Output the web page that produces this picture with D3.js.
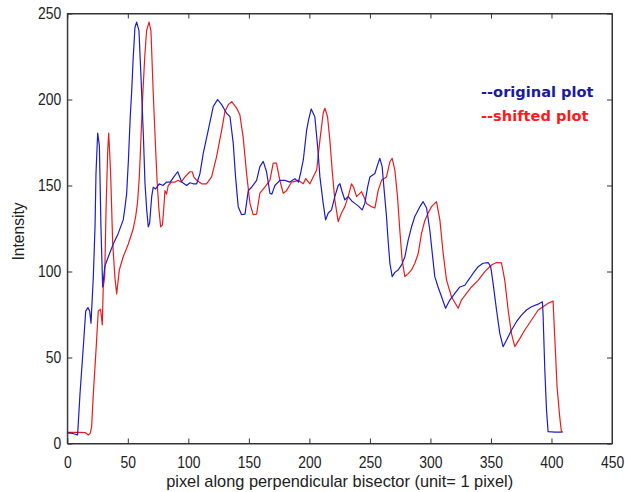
<!DOCTYPE html>
<html>
<head>
<meta charset="utf-8">
<script src="https://cdn.jsdelivr.net/npm/d3@7"></script>
<style>
html,body{margin:0;padding:0;background:#fff;}
svg{display:block;}
</style>
</head>
<body>
<svg id="chart" width="625" height="492"></svg>
<script>
// ---- data ----
const xTicks = [0, 50, 100, 150, 200, 250, 300, 350, 400, 450];
const yTicks = [0, 50, 100, 150, 200, 250];
const seriesNames = ["--original plot", "--shifted plot"];

const originalX = [0,3,6,8.5,10.5,13.2,15.2,17,18.5,19.6,21.5,22.9,23.7,25.1,26.5,27.8,29.2,31,33.9,38,42,46.2,47.6,49,50.5,52,53.2,54.5,55.9,57.3,59.2,60.9,62.8,64.2,65.6,66.9,68,69.7,71,73,76,79,82,85,88,91.2,94.5,98.6,101.3,104,106.9,109.6,112.3,116.4,120.6,124.2,127.5,131.6,134.4,137.1,139,141.2,144,146.8,149.5,152.3,156.4,159.1,161.9,164.6,167.4,169,171.5,175.6,179.8,183.9,188,191,193,195,197.7,199.3,201.5,204.5,206.8,208.7,211.4,213.4,215.6,218.3,221,223.8,225.2,227,229.3,232,235,237.6,240.5,243.6,245.8,248.1,250,254.1,256.8,258.2,260.1,261.8,263.7,265,266.5,268.4,270.6,273.3,276.1,278.9,281.6,284.4,287.1,291.3,294,296.8,299.5,301,303.6,306.3,309.2,312.5,316,320.2,324.3,328.4,331.2,335.3,339.4,343.5,347.7,349.8,351.8,354.6,357.3,360,362.8,367,371.1,375.2,379.4,383.5,388.9,392.5,393,394.5,395.9,397.2,403,408.5];
const originalY = [6,6,5.5,5,29,56,77,79,77,70,97,126,157,180.5,173,126,91,103,108.6,116,122,130,137,145,165,190,205,225,242,245,240,213,180,151,136,126,128,143.5,149,148,151,150,152,152,155,158,152,150,151.6,151,151,157,168.7,182,196,200,197,192,190,174.5,155,137.7,133,133.4,147,149,153,161,164,158,145.5,145,150,153,153,152,154,152,158,165,182,188,194.5,190,172.6,155,139.6,130,134,135.8,143.5,150,151,146.5,141.6,143.5,141,139.6,138,135.8,139.6,149,155,157,163,165.8,161,147,132,118.3,104.8,97,99.5,100.9,103.7,108.6,118.3,126,132,137.7,140.6,136.9,124,114,97,91,85.3,78.6,83.4,87.3,91,92,94.8,99,102.8,104.8,105.2,102.8,93,77.6,64,56.3,60,66,70.8,74.6,77.6,79.5,81,82.4,76,42.7,19.5,6.9,6.6,6.6];

const shiftedX = [0,5,10,15,17.5,19,20.1,21.5,23.7,25.6,27.5,28.9,29.7,30.9,32,33.4,34.2,35.8,37.5,39.4,40.8,43,46.2,50.4,54.5,56.5,58,59.5,61,62.5,64,65.5,67.5,69.1,71,73,74.3,75.7,77.1,78.5,79.3,80.7,82,83.4,86.1,89,91.6,94,97.2,101.3,103.2,104.5,106.9,111,115,119.2,123.3,127.5,130.2,133,135.8,139.9,142.6,145.3,148.1,150.9,153.6,156.4,159.1,163.2,167.4,170.1,172.8,175.6,178.4,181.1,185.3,190.8,194.9,197,200.4,203.1,206,208.7,211.4,212.8,215,216.9,218.8,221,223.8,226.5,229.3,232,234.8,236.5,239,243.1,245,247.2,251.4,254.1,256.8,259.6,263.7,266.5,268.4,270.6,272.8,274.7,276.6,278.9,281.6,284.4,287.1,289.9,292.6,295.3,298.1,300.9,305,307.8,310.5,313.3,317.4,322.9,325.6,329.8,333.9,339.4,344.9,350.4,354.6,358.7,361.4,364.2,366.9,369.7,373.8,378,383.5,389,393.1,397.2,401.3,402.7,404.6,406.8,408.2,409.5];
const shiftedY = [6.5,6.5,6.5,6.3,5,6,9.8,29,54,77,78,69,91,97,136,170.6,180.5,157,116.5,96,87,101,108.6,116,125,132,140,155,180,205,225,240,245,240,203.6,170.6,151,136,126,127,133,147,145,150,152,152,153,152,155,158,158,155,153,151,151,155,166.7,182,193,197,198.7,195,191,178,157,139.6,133,133.4,145.5,149,153,163,163,153,145.5,147,152,153,151,154,151,155,159,176.5,192,194.9,190,176.5,159,141.6,129,134,137.7,143.5,151,149,143.5,146.4,143.5,139.6,137.7,136.9,147,153,155,163.8,165.8,159,143.5,124,106.7,97,98.8,100.9,104.8,110.4,122,129.5,134,137.7,140.6,130,110.6,95,85.3,78.6,83.4,87.3,91,94.8,99.9,103.8,105.2,105,95,77.6,64,56.3,61,66,71.8,77.6,79.5,81.5,82.8,62,33,15.6,6.9,6.6];

// ---- layout ----
const svg = d3.select("#chart");
const L = 67.3, R = 612, T = 13.5, B = 443.5;
const xScale = d3.scaleLinear().domain([0, 450]).range([L, R]);
const yScale = d3.scaleLinear().domain([0, 250]).range([B, T]);
const tickFont = "'Liberation Sans', Arial, sans-serif";
const squeeze = 0.82;

// lines
const lineGen = d3.line().x(d => xScale(d[0])).y(d => yScale(d[1]));
const seriesList = [
  {name: seriesNames[0], xs: originalX, ys: originalY, color: "#1c1cc8"},
  {name: seriesNames[1], xs: shiftedX, ys: shiftedY, color: "#e81c1c"}
];
const plotG = svg.append("g");
plotG.append("clipPath").attr("id","clip").append("rect")
  .attr("x", L).attr("y", T).attr("width", R-L).attr("height", B-T);
[seriesList[1], seriesList[0]].forEach(s => {
  plotG.append("path")
    .datum(s.xs.map((v,i) => [v, s.ys[i]]))
    .attr("fill", "none")
    .attr("stroke", s.color)
    .attr("stroke-width", 1.2)
    .attr("stroke-linejoin", "round")
    .attr("clip-path", "url(#clip)")
    .attr("d", lineGen);
});

// axes
function styleAxis(g){
  g.selectAll("path").attr("stroke", "#333");
  g.selectAll("line").attr("stroke", "#333");
  g.selectAll("text").attr("fill", "#222").style("font-family", tickFont).style("font-size", "17px");
}
svg.append("g").attr("transform", `translate(0,${B})`)
  .call(d3.axisBottom(xScale).tickValues(xTicks).tickFormat(d3.format("d")).tickSizeInner(-5).tickSizeOuter(0).tickPadding(12))
  .call(styleAxis)
  .call(g => g.selectAll(".tick text").attr("transform", `scale(${squeeze},1)`));
svg.append("g").attr("transform", `translate(${L},0)`)
  .call(d3.axisLeft(yScale).tickValues(yTicks).tickFormat(d3.format("d")).tickSizeInner(-5).tickSizeOuter(0).tickPadding(6))
  .call(styleAxis)
  .call(g => g.selectAll(".tick text").attr("x", -6/squeeze).attr("transform", `scale(${squeeze},1)`));
svg.append("g").attr("transform", `translate(0,${T})`)
  .call(d3.axisTop(xScale).tickValues(xTicks).tickFormat("").tickSizeInner(-5).tickSizeOuter(0))
  .call(styleAxis);
svg.append("g").attr("transform", `translate(${R},0)`)
  .call(d3.axisRight(yScale).tickValues(yTicks).tickFormat("").tickSizeInner(-5).tickSizeOuter(0))
  .call(styleAxis);
svg.append("rect").attr("x", L).attr("y", T).attr("width", R-L).attr("height", B-T)
  .attr("fill", "none").attr("stroke", "#333").attr("stroke-width", 1);

// axis labels
svg.append("text")
  .attr("x", (L+R)/2).attr("y", 487)
  .attr("text-anchor", "middle")
  .attr("textLength", 347).attr("lengthAdjust", "spacingAndGlyphs")
  .style("font-family", tickFont).style("font-size", "17px").attr("fill", "#222")
  .text("pixel along perpendicular bisector (unit= 1 pixel)");
svg.append("text")
  .attr("transform", `translate(24,${(T+B)/2 + 3}) rotate(-90)`)
  .attr("text-anchor", "middle")
  .attr("textLength", 58).attr("lengthAdjust", "spacingAndGlyphs")
  .style("font-family", tickFont).style("font-size", "17px").attr("fill", "#222")
  .text("Intensity");

// legend texts
const legendColors = ["#1a1aa8", "#ff1a1a"];
seriesNames.forEach((n, i) => {
  svg.append("text")
    .attr("x", 481).attr("y", 97 + i*24)
    .style("font-family", "'DejaVu Sans', Verdana, sans-serif")
    .style("font-weight", "bold").style("font-size", "14.6px")
    .attr("fill", legendColors[i])
    .text(n);
});
</script>
</body>
</html>
